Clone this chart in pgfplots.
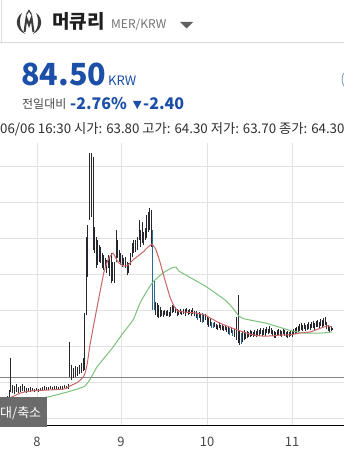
\documentclass[border=0pt]{standalone}
\usepackage{pgfplots}
\pgfplotsset{compat=1.18}
\usepackage{pgfplotstable}
\usepackage{fontspec}
\setmainfont{Noto Sans CJK KR}
\definecolor{hdrblue}{HTML}{1C4FA8}
\definecolor{candle}{HTML}{26262F}
\definecolor{candleblue}{HTML}{2C6A93}
\definecolor{maRed}{HTML}{C86666}
\definecolor{maGreen}{HTML}{7CC27C}
\definecolor{gridc}{HTML}{E2E2E2}
\definecolor{logoc}{HTML}{3C3C3C}

\pgfplotstableread{
x lo hi
1 63.9 65.0
3 64.2 65.3
5 64.4 65.6
7 64.7 66.1
9 65.0 67.8
10.5 67.2 76.7
12 66.9 69.2
14 66.7 68.9
16 67.2 69.4
18 66.9 68.6
20 67.2 68.9
22 67.5 69.4
24 67.2 68.9
26 66.9 68.3
28 67.2 68.3
30 67.2 68.6
32 67.5 68.3
34 67.2 68.1
36 67.5 68.3
38 67.2 68.1
40 67.5 68.3
42 67.8 68.6
44 67.8 68.9
46 67.8 68.6
48 67.8 68.6
50 68.1 68.9
52 67.8 68.6
54 68.1 68.9
56 67.8 68.9
58 68.1 68.6
60 68.1 68.9
62 67.8 68.9
64 68.3 69.2
66 68.1 68.9
68 68.1 69.4
69.5 71.4 81.1
71 70.6 74.7
73 71.1 73.9
75 71.4 74.4
77 71.7 74.2
79 72.2 74.7
81 72.5 75.3
83 73.1 76.7
84.5 73.3 89.2
86 88.6 110.3
87.5 99.2 113.6
89.5 115.0 133.6
91 115.8 133.6
93 106.7 132.5
94.5 105.8 113.1
96 101.7 110.3
97.5 102.5 109.4
99 103.3 108.1
100.5 103.1 107.5
102 101.7 105.8
103.5 101.1 105.3
105 101.7 104.4
106.5 100.3 103.9
108 101.7 105.3
109.5 99.4 104.7
111 97.5 105.8
112.5 98.1 103.3
114 97.5 103.3
116 103.3 112.2
117.5 104.4 109.4
119 103.3 106.7
120.5 102.5 105.8
122 101.9 105.3
123.5 102.5 104.4
125 101.7 104.7
127 99.7 103.3
128.5 100.3 103.1
130 102.5 105.8
132 104.7 108.6
133.5 105.8 109.4
135 106.1 109.4
137 106.7 110.3
139 109.4 115.0
140.5 107.5 112.2
142 108.6 114.4
143.5 108.1 111.7
145 109.4 112.8
146.5 110.0 116.4
148 111.7 117.2
149.5 112.2 118.3
151 107.5 117.8
155.5 88.6 92.2
157 88.1 91.9
158.5 87.8 91.4
160 88.1 90.8
161.5 88.3 90.0
163 88.1 89.7
164.5 88.6 90.0
166 88.3 89.7
167.5 88.3 90.0
169 88.1 89.4
170.5 88.3 90.8
172 89.2 91.4
173.5 89.4 91.1
175 89.2 90.8
177 88.3 90.3
178.5 88.6 90.0
180 88.9 90.3
181.5 88.6 89.7
183 88.9 90.3
185 88.3 90.3
186.5 89.2 90.6
188 88.6 90.0
189.5 88.9 90.3
191 88.3 90.0
192.5 88.9 90.6
194 88.3 89.7
196 87.8 89.7
199 87.8 89.4
200.5 86.7 88.9
203.5 86.7 88.6
205 87.2 88.9
207 85.8 88.3
208.5 85.3 87.8
210 85.6 87.8
214.5 85.3 86.7
216 84.7 86.1
217.5 84.4 85.8
219 85.0 86.4
220.5 84.4 85.8
222 84.4 86.1
223.5 84.2 85.6
225 84.4 85.8
226.5 83.9 85.3
228 83.3 85.3
231 83.6 85.0
234 82.5 84.7
236 81.7 88.1
238 80.8 94.2
239.5 80.3 84.4
242.5 81.1 83.9
244 81.7 84.4
245.5 81.9 83.9
247 82.2 84.2
248.5 82.5 83.9
250 82.5 84.4
251.5 82.8 84.2
253 82.5 83.9
254.5 82.8 84.4
256 82.5 84.2
257.5 83.1 84.7
259 82.8 84.4
260.5 83.3 85.0
262 82.8 84.4
263.5 83.1 85.0
265 82.8 84.7
266.5 83.6 85.3
268 83.3 84.7
269.5 83.6 85.6
271 83.3 85.0
272.5 82.8 84.4
274 82.2 84.2
275.5 82.2 83.9
277 82.8 84.4
278.5 83.1 84.7
280 82.8 84.4
281.5 82.5 84.2
283 83.3 84.7
284.5 82.8 84.4
286 82.5 83.9
287.5 82.2 84.2
289 82.5 83.9
290.5 82.8 84.4
292 82.5 84.2
293.5 83.1 84.7
295 83.3 85.0
296.5 83.6 85.3
298 83.9 85.6
299.5 84.2 86.1
301 84.4 86.4
302.5 84.2 85.8
304 84.7 86.4
305.5 84.2 85.8
307 84.4 86.1
308.5 84.7 86.7
310 84.4 86.1
311.5 85.0 86.7
313 85.0 86.9
314.5 84.4 86.4
316 85.3 86.9
317.5 85.3 87.2
319 84.7 86.7
320.5 85.6 87.5
322 85.3 87.2
323.5 85.6 87.8
325 85.8 88.1
326.5 84.7 86.7
328 84.2 85.8
329.5 83.6 85.3
331 84.2 85.6
332.5 84.4 85.0
}\barsdark

\pgfplotstableread{
x lo hi
152.5 90.0 112.2
154 90.0 98.3
197.5 87.2 89.2
202 86.4 89.2
211.5 85.0 86.7
213 85.0 86.4
229.5 83.1 85.0
232.5 82.8 84.4
241 80.6 83.6
}\barsblue

\pgfplotstableread{
x y
0 64.4
10 65.6
20 66.9
30 67.5
50 67.8
65 68.1
70 68.9
78 70.0
84 71.7
87 74.7
90 80.3
95 87.8
100 95.0
104 100.6
108 103.9
113 105.8
118 103.3
124 102.2
128 102.5
133 103.9
138 105.0
143 106.1
148 107.5
152 108.3
156 106.7
160 103.3
165 98.3
170 93.6
174 91.1
178 89.7
185 89.4
195 89.2
205 88.6
212 87.5
222 86.1
232 85.0
240 84.2
250 83.3
260 82.8
272 82.8
282 83.1
290 83.1
300 83.6
310 83.9
318 84.7
324 85.3
328 85.6
332 85.3
}\mashort

\pgfplotstableread{
x y
0 63.9
20 64.7
47 65.8
67 67.2
80 68.3
85 68.9
89 70.3
93 72.2
97 74.2
113 79.7
123 83.6
133 87.2
140 91.9
147 95.3
153 97.8
163 100.3
172 101.7
176 101.9
179 100.8
189 99.2
205 96.7
217 94.4
225 92.8
232 90.8
239 88.3
245 87.5
265 86.4
282 85.0
292 84.2
305 83.6
322 83.6
332 83.9
}\malong

\begin{document}
\begin{tikzpicture}
\fill[white] (0pt,0pt) rectangle (344pt,-449pt);
\path[use as bounding box] (0pt,0pt) rectangle (344pt,-449pt);
\begin{scope}[x=1pt,y=1pt]
% header frame
\draw[color=black!15, line width=0.8pt] (0,-42.5) -- (344,-42.5);
\draw[color=black!12, line width=0.8pt] (1.5,0) -- (1.5,-42.5);
% logo
\fill[logoc] (22,-13) .. controls (14.5,-18) and (15,-29) .. (25,-34) .. controls (19.5,-29) and (18.5,-20) .. (22,-13) -- cycle;
\fill[logoc] (36,-13) .. controls (43.5,-18) and (43,-29) .. (33,-34) .. controls (38.5,-29) and (39.5,-20) .. (36,-13) -- cycle;
\draw[logoc, line width=2pt, line join=miter] (24.5,-32) -- (26.5,-18) -- (29,-25) -- (31.5,-18) -- (33.5,-32);
\draw[logoc, line width=1.2pt] (26.5,-14.5) -- (29,-10.5) -- (31.5,-14.5);
% title
\node[anchor=base west, inner sep=0pt, font=\fontsize{19}{21}\selectfont\bfseries, text=black!88] at (52,-28.5) {머큐리};
\node[anchor=base west, inner sep=0pt, font=\fontsize{12}{14}\selectfont, text=black!55] at (111,-29) {MER/KRW};
\fill[black!62] (180,-22) -- (193,-22) -- (186.5,-28.5) -- cycle;
% price
\node[anchor=base west, inner sep=0pt, font=\fontsize{30.5}{32}\selectfont\bfseries, text=hdrblue] at (21,-85.5) {84.50};
\node[anchor=base west, inner sep=0pt, font=\fontsize{13}{15}\selectfont, text=hdrblue] at (108,-86) {KRW};
\node[anchor=base west, inner sep=0pt, font=\fontsize{12}{14}\selectfont, text=black!72] at (22,-109) {전일대비};
\node[anchor=base west, inner sep=0pt, font=\fontsize{16}{18}\selectfont\bfseries, text=hdrblue] at (70,-110) {-2.76\%};
\fill[hdrblue] (133,-101) -- (141.5,-101) -- (137.25,-109) -- cycle;
\node[anchor=base west, inner sep=0pt, font=\fontsize{16}{18}\selectfont\bfseries, text=hdrblue] at (143,-110) {-2.40};
\draw[color=hdrblue!60, line width=0.8pt] (343.8,-73) .. controls (341.5,-77) and (341.5,-82) .. (343.8,-86);
% hover info
\node[anchor=base west, inner sep=0pt, font=\fontsize{13.3}{15}\selectfont, text=black!82] at (0,-134) {06/06 16:30 시가: 63.80 고가: 64.30 저가: 63.70 종가: 64.30};
\end{scope}

\begin{axis}[
  at={(0pt,-425pt)}, anchor=south west,
  width=344pt, height=282pt, scale only axis,
  xmin=0, xmax=344, ymin=58.06, ymax=136.39,
  axis line style={draw=none},
  xtick={37,121,207,292}, xticklabels={8,9,10,11},
  ytick={60,70,80,90,100,110,120,130}, yticklabels={},
  major tick length=0pt,
  grid=major, major grid style={draw=gridc, line width=0.8pt},
  xticklabel style={font=\fontsize{13}{14}\selectfont, text=black!72, anchor=center, yshift=-16.5pt},
  clip=true,
]
\addplot[color=black!48, line width=0.9pt, forget plot] coordinates {(0,71.25) (344,71.25)};
\addplot[draw=none, mark=none, forget plot,
  error bars/.cd, y dir=plus, y explicit, error mark=none,
  error bar style={draw=candle, line width=0.85pt}]
  table[x=x, y=lo, y error expr=\thisrow{hi}-\thisrow{lo}] {\barsdark};
\addplot[draw=none, mark=none, forget plot,
  error bars/.cd, y dir=plus, y explicit, error mark=none,
  error bar style={draw=candleblue, line width=0.85pt}]
  table[x=x, y=lo, y error expr=\thisrow{hi}-\thisrow{lo}] {\barsblue};
\addplot[color=maGreen, line width=1pt, smooth, tension=0.3, forget plot] table[x=x, y=y] {\malong};
\addplot[color=maRed, line width=1pt, smooth, tension=0.3, forget plot] table[x=x, y=y] {\mashort};
\end{axis}

\begin{scope}[x=1pt,y=1pt]
\draw[black, line width=1.2pt] (0,-425.5) -- (344,-425.5);
\fill[fill={rgb,255:red,107;green,107;blue,107}] (0,-397) rectangle (47,-427);
\node[anchor=base west, inner sep=0pt, font=\fontsize{13}{14}\selectfont, text=white] at (0,-417) {대/축소};
\end{scope}
\end{tikzpicture}
\end{document}
